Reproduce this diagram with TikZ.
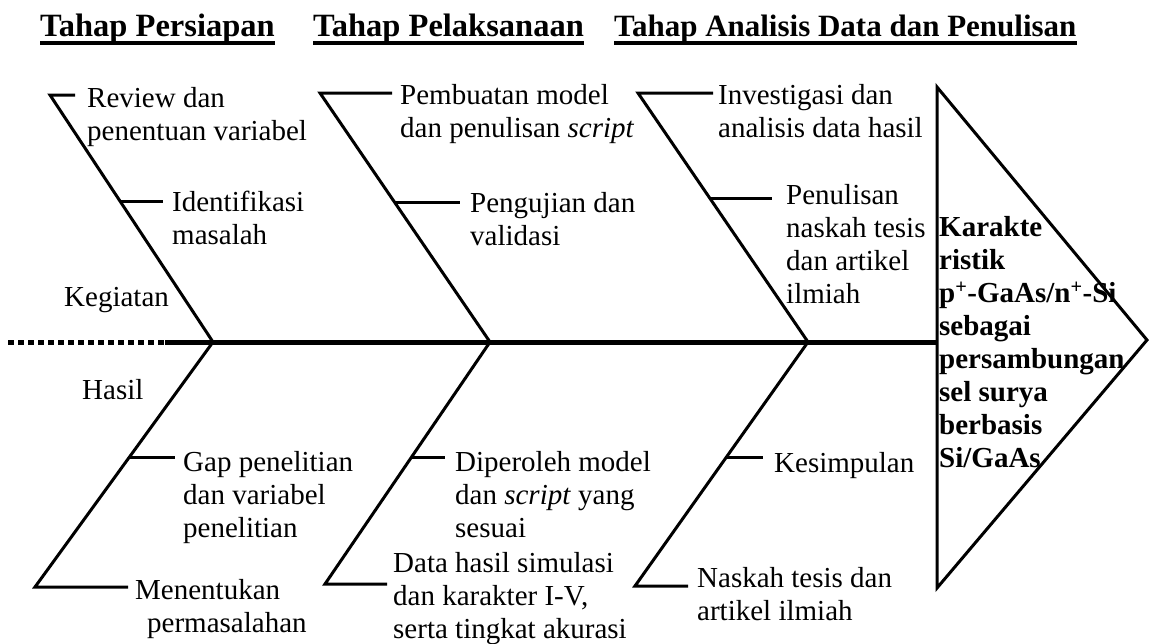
\documentclass[tikz,border=0pt]{standalone}
\usepackage{fontspec}
\setmainfont{Liberation Serif}
\usetikzlibrary{calc}
\begin{document}
\begin{tikzpicture}[x=1pt,y=-1pt,
  bone/.style={line width=3pt},
  spine/.style={line width=5pt},
  dotspine/.style={line width=5pt,dash pattern=on 6pt off 4pt},
  lbl/.style={anchor=north west,inner sep=0pt,align=left,font=\fontsize{29}{33}\selectfont},
  head/.style={anchor=base west,inner sep=0pt,font=\fontsize{32.5}{38}\selectfont\bfseries},
  uline/.style={line width=4pt},
  resbox/.style={line width=3pt,line join=miter}]
\useasboundingbox (0,0) rectangle (1149,643);

% headers
\node[head] (h1) at (40,36) {Tahap Persiapan};
\node[head] (h2) at (313,36) {Tahap Pelaksanaan};
\node[head,font=\fontsize{31}{38}\selectfont\bfseries] (h3) at (614,36) {Tahap Analisis Data dan Penulisan};
\foreach \h in {h1,h2,h3}
  \draw[uline] ([yshift=-7pt]\h.base west) -- ([yshift=-7pt]\h.base east);

% spine
\coordinate (s0) at (8,342);
\coordinate (s1) at (165,342);
\coordinate (j1) at (213,342);
\coordinate (j2) at (490,342);
\coordinate (j3) at (808,342);
\coordinate (se) at (937,342);
\draw[dotspine] (s0) -- (s1);
\draw[spine] (s1) -- (se);

% result triangle
\coordinate (t1) at (937,87);
\coordinate (t2) at (1147,340);
\coordinate (t3) at (937,588);
\draw[resbox] (t1) -- (t2) -- (t3) -- cycle;

% upper bones
\coordinate (u1) at (50,95);  \coordinate (u1e) at (75,95);
\coordinate (u2) at (320,93); \coordinate (u2e) at (392,93);
\coordinate (u3) at (638,93); \coordinate (u3e) at (713,93);
\draw[bone] (u1e) -- (u1) -- (j1);
\draw[bone] (u2e) -- (u2) -- (j2);
\draw[bone] (u3e) -- (u3) -- (j3);
\coordinate (m1) at ($(j1)!0.567!(u1)$); \coordinate (m1e) at (163,0 |- m1);
\coordinate (m2) at ($(j2)!0.562!(u2)$); \coordinate (m2e) at (460,0 |- m2);
\coordinate (m3) at ($(j3)!0.578!(u3)$); \coordinate (m3e) at (772,0 |- m3);
\draw[bone] (m1) -- (m1e);
\draw[bone] (m2) -- (m2e);
\draw[bone] (m3) -- (m3e);

% lower bones
\coordinate (l1) at (35,587);  \coordinate (l1e) at (128,587);
\coordinate (l2) at (325,584); \coordinate (l2e) at (387,584);
\coordinate (l3) at (635,586); \coordinate (l3e) at (688,586);
\draw[bone] (j1) -- (l1) -- (l1e);
\draw[bone] (j2) -- (l2) -- (l2e);
\draw[bone] (j3) -- (l3) -- (l3e);
\coordinate (n1) at ($(j1)!0.473!(l1)$); \coordinate (n1e) at (175,0 |- n1);
\coordinate (n2) at ($(j2)!0.479!(l2)$); \coordinate (n2e) at (445,0 |- n2);
\coordinate (n3) at ($(j3)!0.475!(l3)$); \coordinate (n3e) at (763,0 |- n3);
\draw[bone] (n1) -- (n1e);
\draw[bone] (n2) -- (n2e);
\draw[bone] (n3) -- (n3e);

% upper labels
\node[lbl] (a1) at (87,87) {Review dan\\penentuan variabel};
\node[lbl] (a2) at (172,191) {Identifikasi\\masalah};
\node[lbl] (keg) at (64,287) {Kegiatan};
\node[lbl] (b1) at (400,84) {Pembuatan model\\dan penulisan \textit{script}};
\node[lbl] (b2) at (470,192) {Pengujian dan\\validasi};
\node[lbl] (c1) at (718,84) {Investigasi dan\\analisis data hasil};
\node[lbl] (c2) at (786,184) {Penulisan\\naskah tesis\\dan artikel\\ilmiah};

% result text
\node[lbl,font=\fontsize{29}{33}\selectfont\bfseries] (res) at (939,216)
  {Karakte\\ristik\\p\textsuperscript{+}-GaAs/n\textsuperscript{+}-Si\\sebagai\\persambungan\\sel surya\\berbasis\\Si/GaAs};

% lower labels
\node[lbl] (has) at (82,379) {Hasil};
\node[lbl] (d1) at (183,451) {Gap penelitian\\dan variabel\\penelitian};
\node[lbl] (d2) at (135,579) {Menentukan\\\hspace*{12pt}permasalahan};
\node[lbl] (e1) at (455,451) {Diperoleh model\\dan \textit{script} yang\\sesuai};
\node[lbl] (e2) at (393,552) {Data hasil simulasi\\dan karakter I-V,\\serta tingkat akurasi};
\node[lbl] (f1) at (774,452) {Kesimpulan};
\node[lbl] (f2) at (697,567) {Naskah tesis dan\\artikel ilmiah};
\end{tikzpicture}
\end{document}
